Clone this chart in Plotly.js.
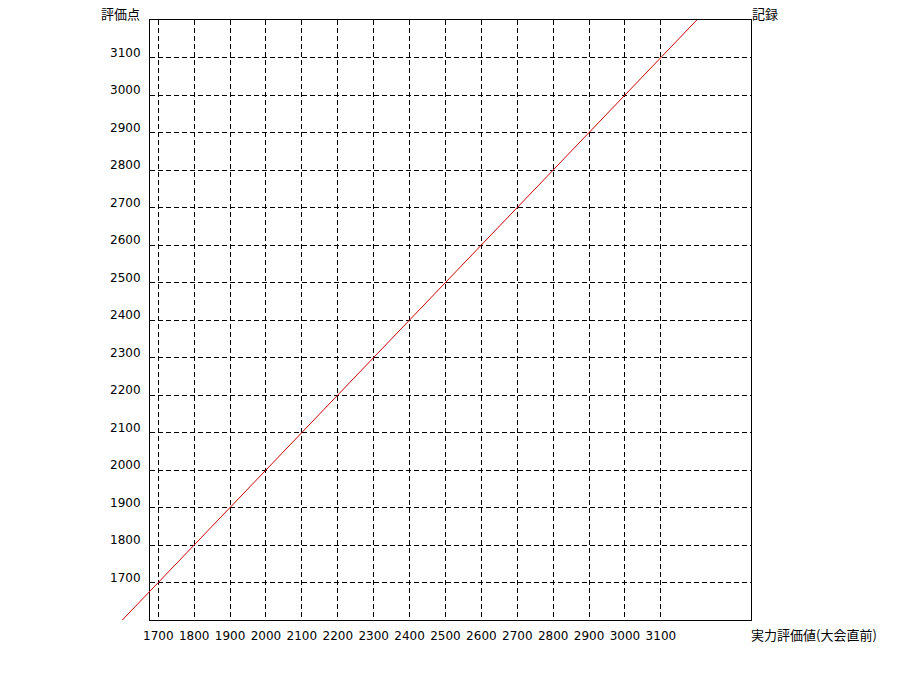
<!DOCTYPE html>
<html>
<head>
<meta charset="utf-8">
<script src="https://cdn.plot.ly/plotly-3.0.1.min.js"></script>
<style>html,body{margin:0;padding:0;background:#fff;}</style>
</head>
<body>
<div id="chart" style="width:900px;height:700px;"></div>
<script>
// Data
const xTickVals = [1700, 1800, 1900, 2000, 2100, 2200, 2300, 2400, 2500, 2600, 2700, 2800, 2900, 3000, 3100];
const yTickVals = [1700, 1800, 1900, 2000, 2100, 2200, 2300, 2400, 2500, 2600, 2700, 2800, 2900, 3000, 3100];
const lineX = [1600, 3200];
const lineY = [1600, 3200];
const xTitle = "実力評価値(大会直前)";
const yTitle = "評価点";
const y2Title = "記録";

const xRange = [1677, 3351];
const xRangeLine = [1599, 3351];
const yRange = [1600, 3200];

const tickFont = {family: "DejaVu Sans, Verdana, sans-serif", size: 12, color: "#000"};
const cjkFont = {family: "Noto Sans CJK JP, sans-serif", size: 13, color: "#000"};

const traces = [
  {
    // invisible anchor trace so the framed subplot is drawn
    x: lineX, y: lineY, type: "scatter", mode: "lines",
    xaxis: "x", yaxis: "y",
    line: {color: "rgba(0,0,0,0)", width: 0},
    hoverinfo: "skip", showlegend: false
  },
  {
    x: lineX, y: lineY, type: "scatter", mode: "lines",
    xaxis: "x2", yaxis: "y2",
    line: {color: "#cc0000", width: 1},
    hoverinfo: "skip", showlegend: false
  }
];

const gridCommon = {
  showgrid: true, gridcolor: "#000", gridwidth: 1, griddash: "5px,3px",
  showline: true, linecolor: "#000", linewidth: 1, mirror: true,
  ticks: "", zeroline: false, tickfont: tickFont, fixedrange: true
};

const layout = {
  width: 900, height: 700,
  margin: {l: 122, r: 149, t: 20, b: 80, pad: 0},
  paper_bgcolor: "#fff", plot_bgcolor: "rgba(0,0,0,0)",
  showlegend: false,
  xaxis: Object.assign({}, gridCommon, {
    domain: [28 / 629, 1], range: xRange, anchor: "y",
    tickmode: "array", tickvals: xTickVals, ticktext: xTickVals.map(String),
    ticklabelstandoff: 5
  }),
  yaxis: Object.assign({}, gridCommon, {
    domain: [0, 1], range: yRange, anchor: "x",
    tickmode: "array", tickvals: yTickVals, ticktext: yTickVals.map(String),
    ticklabelstandoff: 6, ticklabelshift: -5
  }),
  xaxis2: {domain: [0, 1], range: xRangeLine, anchor: "y2", visible: false, fixedrange: true},
  yaxis2: {domain: [0, 1], range: yRange, anchor: "x2", visible: false, fixedrange: true},
  annotations: [
    {text: yTitle, xref: "paper", yref: "paper", x: (99 - 122) / 629, y: (620 - 14) / 600,
     xanchor: "left", yanchor: "middle", showarrow: false, font: cjkFont},
    {text: y2Title, xref: "paper", yref: "paper", x: (750 - 122) / 629, y: (620 - 14) / 600,
     xanchor: "left", yanchor: "middle", showarrow: false, font: cjkFont},
    {text: xTitle, xref: "paper", yref: "paper", x: (749 - 122) / 629, y: (620 - 634) / 600,
     xanchor: "left", yanchor: "middle", showarrow: false, font: cjkFont}
  ]
};

Plotly.newPlot("chart", traces, layout, {displayModeBar: false, staticPlot: true});
</script>
</body>
</html>
